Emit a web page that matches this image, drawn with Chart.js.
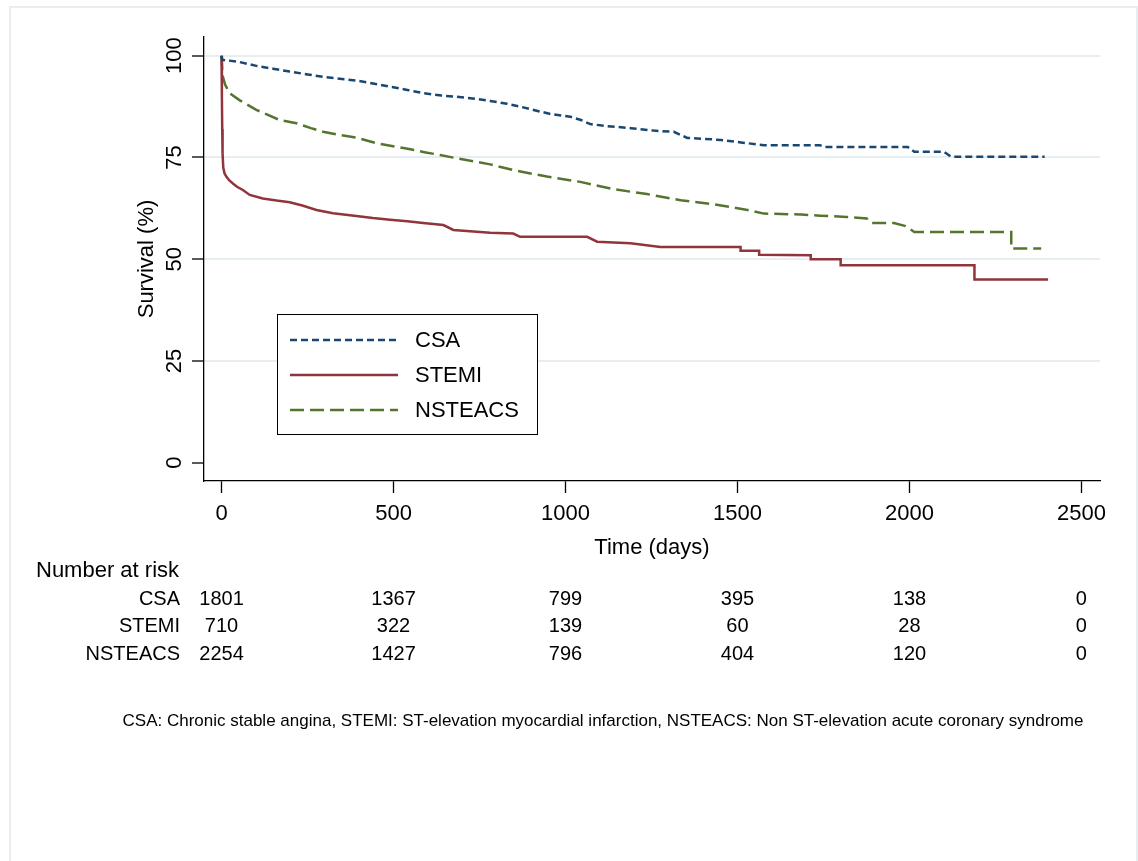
<!DOCTYPE html>
<html>
<head>
<meta charset="utf-8">
<title>Kaplan-Meier survival</title>
<script src="https://cdn.jsdelivr.net/npm/chart.js@4/dist/chart.umd.min.js"></script>
<style>
  body { margin: 0; background: #fff; }
  #wrap { width: 1138px; height: 861px; }
</style>
</head>
<body>
<div id="wrap"><canvas id="km" width="1138" height="861"></canvas></div>
<script>
// survival curves (days, %); repeated days mark the visible vertical drops
const csaDays = [0, 2, 50, 101, 150, 198, 250, 295, 350, 392, 440, 490, 540, 586, 640, 684, 730, 781, 830, 868, 910, 956, 1014, 1045, 1072, 1121, 1190, 1256, 1315, 1354, 1400, 1451, 1510, 1577, 1740, 1752, 1995, 2014, 2100, 2121, 2393];
const csaSurv = [100, 99.0, 98.5, 97.5, 96.8, 96.1, 95.4, 94.8, 94.3, 93.9, 93.2, 92.4, 91.6, 90.8, 90.2, 89.9, 89.5, 88.9, 88.2, 87.5, 86.6, 85.7, 85.0, 84.2, 83.2, 82.7, 82.2, 81.6, 81.3, 79.8, 79.6, 79.3, 78.7, 78.0, 78.0, 77.6, 77.6, 76.4, 76.4, 75.2, 75.2];

const stemiDays = [0, 1, 2, 3, 5, 9, 14, 22, 33, 45, 62, 82, 120, 160, 198, 235, 276, 324, 392, 440, 490, 540, 586, 645, 674, 781, 848, 868, 1063, 1092, 1189, 1276, 1509, 1509, 1563, 1563, 1713, 1713, 1800, 1800, 2189, 2189, 2403];
const stemiSurv = [100, 90, 82, 76, 72.5, 71.0, 70.3, 69.4, 68.6, 67.8, 67.0, 65.8, 64.9, 64.4, 64.0, 63.2, 62.1, 61.3, 60.6, 60.1, 59.7, 59.3, 58.9, 58.4, 57.2, 56.5, 56.3, 55.5, 55.5, 54.3, 53.9, 53.0, 53.0, 52.1, 52.1, 51.1, 51.0, 50.0, 50.0, 48.5, 48.5, 45.0, 45.0];

const nsteacsDays = [0, 2, 4, 10, 23, 52, 101, 169, 218, 260, 295, 340, 392, 450, 537, 590, 635, 684, 781, 848, 946, 1043, 1140, 1237, 1335, 1431, 1529, 1577, 1685, 1740, 1818, 1876, 1888, 1955, 1990, 2014, 2296, 2296, 2383];
const nsteacsSurv = [100, 96.5, 94.8, 93.0, 90.8, 89.1, 86.7, 84.2, 83.4, 82.2, 81.3, 80.6, 79.9, 78.5, 77.2, 76.3, 75.6, 74.8, 73.3, 71.9, 70.3, 69.0, 67.2, 66.0, 64.5, 63.5, 62.1, 61.2, 61.0, 60.7, 60.4, 60.0, 58.9, 58.9, 58.1, 56.7, 56.7, 52.6, 52.6];

const groups = ['CSA', 'STEMI', 'NSTEACS'];
const xTicks = [0, 500, 1000, 1500, 2000, 2500];
const yTicks = [0, 25, 50, 75, 100];

// number at risk table
const riskTimes = [0, 500, 1000, 1500, 2000, 2500];
const riskCSA = [1801, 1367, 799, 395, 138, 0];
const riskSTEMI = [710, 322, 139, 60, 28, 0];
const riskNSTEACS = [2254, 1427, 796, 404, 120, 0];

const footnote = 'CSA: Chronic stable angina, STEMI: ST-elevation myocardial infarction, NSTEACS: Non ST-elevation acute coronary syndrome';

const FONT = '"Liberation Sans", Arial, sans-serif';
const colors = ['#1a476f', '#90353b', '#55752f'];
const dashes = [[7, 4], [], [14, 6]];

function pts(days, surv) {
  return days.map((d, i) => ({ x: d, y: surv[i] }));
}

const extras = {
  id: 'extras',
  beforeDraw(chart) {
    const ctx = chart.ctx;
    ctx.save();
    ctx.fillStyle = '#fff';
    ctx.fillRect(0, 0, chart.width, chart.height);
    ctx.strokeStyle = '#e6eef1';
    ctx.lineWidth = 2;
    ctx.strokeRect(10, 7, 1127, 900);
    ctx.restore();
  },
  afterDraw(chart) {
    const ctx = chart.ctx;
    const xs = chart.scales.x, ys = chart.scales.y;
    ctx.save();
    ctx.fillStyle = '#000';

    // rotated y tick labels
    ctx.font = '22px ' + FONT;
    ctx.textAlign = 'center';
    ctx.textBaseline = 'middle';
    yTicks.forEach(v => {
      ctx.save();
      ctx.translate(ys.right - 29, ys.getPixelForValue(v));
      ctx.rotate(-Math.PI / 2);
      ctx.fillText(String(v), 0, 0);
      ctx.restore();
    });

    // legend box
    ctx.fillStyle = '#fff';
    ctx.fillRect(277, 314, 260, 120);
    ctx.strokeStyle = '#000';
    ctx.lineWidth = 1;
    ctx.strokeRect(277.5, 314.5, 260, 120);
    ctx.font = '22px ' + FONT;
    ctx.textAlign = 'left';
    groups.forEach((g, i) => {
      const y = 340 + i * 35;
      ctx.strokeStyle = colors[i];
      ctx.lineWidth = 2.5;
      ctx.setLineDash(dashes[i]);
      ctx.beginPath();
      ctx.moveTo(290, y);
      ctx.lineTo(398, y);
      ctx.stroke();
      ctx.setLineDash([]);
      ctx.fillStyle = '#000';
      ctx.fillText(g, 415, y + 1);
    });

    // number at risk
    ctx.fillStyle = '#000';
    ctx.textAlign = 'left';
    ctx.font = '22px ' + FONT;
    ctx.fillText('Number at risk', 36, 571);
    ctx.font = '20px ' + FONT;
    const rows = [riskCSA, riskSTEMI, riskNSTEACS];
    rows.forEach((row, i) => {
      const y = 599 + i * 27.5;
      ctx.textAlign = 'right';
      ctx.fillText(groups[i], 180, y);
      ctx.textAlign = 'center';
      row.forEach((n, j) => ctx.fillText(String(n), xs.getPixelForValue(riskTimes[j]), y));
    });

    // footnote
    ctx.font = '17px ' + FONT;
    ctx.textAlign = 'center';
    ctx.fillText(footnote, 603, 721);
    ctx.restore();
  }
};

new Chart(document.getElementById('km'), {
  type: 'line',
  data: {
    datasets: [
      { label: 'CSA', data: pts(csaDays, csaSurv) },
      { label: 'STEMI', data: pts(stemiDays, stemiSurv) },
      { label: 'NSTEACS', data: pts(nsteacsDays, nsteacsSurv) }
    ].map((ds, i) => Object.assign(ds, {
      borderColor: colors[i],
      borderWidth: 2.5,
      borderDash: dashes[i],
      tension: 0,
      pointRadius: 0,
      fill: false
    }))
  },
  options: {
    responsive: false,
    animation: false,
    devicePixelRatio: 1,
    layout: { padding: { top: 37, right: 38, bottom: 300, left: 0 } },
    plugins: { legend: { display: false }, tooltip: { enabled: false } },
    scales: {
      x: {
        type: 'linear',
        min: -51,
        max: 2554,
        afterBuildTicks: s => { s.ticks = xTicks.map(v => ({ value: v })); },
        afterFit: s => { s.height = 80; },
        border: { display: true, color: '#000', width: 1.3 },
        grid: { drawOnChartArea: false, tickLength: 12, tickColor: '#000', tickWidth: 1.3 },
        ticks: { color: '#000', font: { family: FONT, size: 22 }, padding: 8, maxRotation: 0, callback: v => String(v) },
        title: { display: true, text: 'Time (days)', color: '#000', font: { family: FONT, size: 22 }, padding: 0 }
      },
      y: {
        min: -4.5,
        max: 104.6,
        afterBuildTicks: s => { s.ticks = yTicks.map(v => ({ value: v })); },
        afterFit: s => { s.width = 204; },
        border: { display: true, color: '#000', width: 1.3 },
        grid: {
          color: c => (c.tick && c.tick.value === 0 ? 'rgba(0,0,0,0)' : '#e6eef1'),
          lineWidth: 2,
          tickLength: 12,
          tickColor: '#000',
          tickWidth: 1.3
        },
        ticks: { display: false },
        title: { display: true, text: 'Survival (%)', color: '#000', font: { family: FONT, size: 22 }, padding: { top: 134, bottom: 0 } }
      }
    }
  },
  plugins: [extras]
});
</script>
</body>
</html>
